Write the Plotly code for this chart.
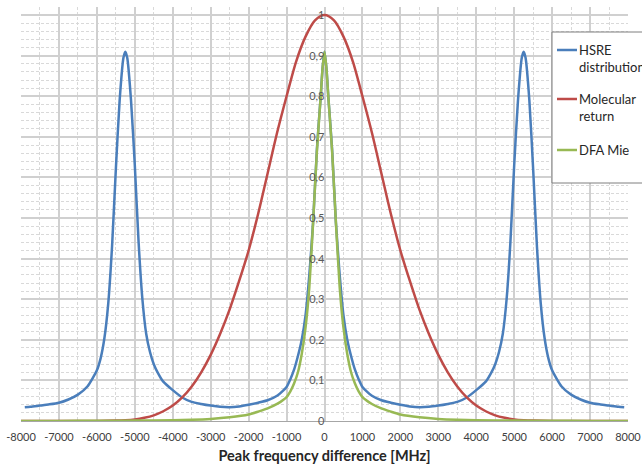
import plotly.graph_objects as go

# ---- data ----
hsre_x = [-7900, -7750, -7500, -7250, -7000, -6750, -6500, -6250, -6000, -5900, -5800, -5700,
          -5600, -5500, -5400, -5300, -5250, -5200, -5100, -5000, -4900, -4800, -4700, -4600,
          -4500, -4400, -4250, -4000, -3750, -3500, -3250, -3000, -2750, -2500, -2250, -2000,
          -1750, -1500, -1250, -1000, -900, -800, -700, -600, -500, -400, -300, -200, -100, -50,
          0, 50, 100, 200, 300, 400, 500, 600, 700, 800, 900, 1000, 1250, 1500, 1750, 2000,
          2250, 2500, 2750, 3000, 3250, 3500, 3750, 4000, 4250, 4400, 4500, 4600, 4700, 4800,
          4900, 5000, 5100, 5200, 5250, 5300, 5400, 5500, 5600, 5700, 5800, 5900, 6000, 6250,
          6500, 6750, 7000, 7250, 7500, 7750, 7900]
hsre_y = [0.034, 0.035, 0.038, 0.041, 0.045, 0.053, 0.065, 0.085, 0.125, 0.155, 0.205, 0.29,
          0.43, 0.62, 0.79, 0.895, 0.91, 0.895, 0.79, 0.63, 0.44, 0.30, 0.215, 0.17,
          0.14, 0.12, 0.097, 0.076, 0.058, 0.047, 0.042, 0.038, 0.035, 0.034, 0.036, 0.040,
          0.045, 0.051, 0.062, 0.084, 0.103, 0.127, 0.16, 0.20, 0.26, 0.36, 0.49, 0.67, 0.80, 0.87,
          0.91, 0.87, 0.80, 0.67, 0.49, 0.36, 0.26, 0.20, 0.16, 0.127, 0.103, 0.084, 0.062, 0.051,
          0.045, 0.040, 0.036, 0.034, 0.035, 0.038, 0.042, 0.047, 0.058, 0.076, 0.097, 0.12,
          0.14, 0.17, 0.215, 0.30, 0.44, 0.63, 0.79, 0.895, 0.91, 0.895, 0.79, 0.62, 0.43,
          0.29, 0.205, 0.155, 0.125, 0.085, 0.065, 0.053, 0.045, 0.041, 0.038, 0.035, 0.034]

mol_x = [-8000, -7000, -6000, -5500, -5250, -5000, -4750, -4500, -4250, -4000, -3750, -3500,
         -3250, -3000, -2750, -2500, -2250, -2000, -1750, -1500, -1250, -1000, -750, -500,
         -250, 0, 250, 500, 750, 1000, 1250, 1500, 1750, 2000, 2250, 2500, 2750, 3000, 3250,
         3500, 3750, 4000, 4250, 4500, 4750, 5000, 5250, 5500, 6000, 7000, 8000]
mol_y = [0.0, 0.0, 0.0, 0.001, 0.002, 0.004, 0.008, 0.014, 0.024, 0.038, 0.058, 0.085,
         0.12, 0.163, 0.215, 0.275, 0.345, 0.42, 0.51, 0.61, 0.71, 0.80, 0.885, 0.947,
         0.987, 1.0, 0.987, 0.947, 0.885, 0.80, 0.71, 0.61, 0.51, 0.42, 0.345, 0.275, 0.215,
         0.163, 0.12, 0.085, 0.058, 0.038, 0.024, 0.014, 0.008, 0.004, 0.002, 0.001, 0.0,
         0.0, 0.0]

dfa_x = [-8000, -7000, -6000, -5000, -4000, -3500, -3000, -2500, -2000, -1750, -1500, -1250,
         -1000, -900, -800, -700, -600, -500, -400, -300, -200, -100, -50, 0, 50, 100, 200,
         300, 400, 500, 600, 700, 800, 900, 1000, 1250, 1500, 1750, 2000, 2500, 3000, 3500,
         4000, 5000, 6000, 7000, 8000]
dfa_y = [0.0002, 0.0003, 0.0005, 0.001, 0.002, 0.003, 0.005, 0.009, 0.016, 0.023, 0.031, 0.042,
         0.059, 0.073, 0.093, 0.12, 0.165, 0.23, 0.33, 0.49, 0.665, 0.80, 0.87, 0.91, 0.87,
         0.80, 0.665, 0.49, 0.33, 0.23, 0.165, 0.12, 0.093, 0.073, 0.059, 0.042, 0.031, 0.023,
         0.016, 0.009, 0.005, 0.003, 0.002, 0.001, 0.0005, 0.0003, 0.0002]

series_names = ["HSRE<br>distribution", "Molecular<br>return", "DFA Mie"]
series_colors = ["#4A7EBB", "#BE4B48", "#98B954"]

x_ticks = list(range(-8000, 8001, 1000))
x_ticktext = [str(v) for v in x_ticks]
y_ticks = [0, 0.1, 0.2, 0.3, 0.4, 0.5, 0.6, 0.7, 0.8, 0.9, 1.0]
y_ticktext = ["0", "0,1", "0,2", "0,3", "0,4", "0,5", "0,6", "0,7", "0,8", "0,9", "1"]

ref_level = 0.9
ref_freq = 3000

FONT = "Lato"
W, H = 642, 466
ML, MR, MT, MB = 21, 14, 7, 45
PW, PH = W - ML - MR, H - MT - MB


def px_to_paper_x(px):
    return (px - ML) / PW


def px_to_paper_y(py):
    return (H - MB - py) / PH


fig = go.Figure()
series = [(hsre_x, hsre_y, 0.6), (mol_x, mol_y, 0.8), (dfa_x, dfa_y, 0.6)]
for (xs, ys, sm), name, col in zip(series, series_names, series_colors):
    fig.add_trace(go.Scatter(x=xs, y=ys, mode="lines", name=name, showlegend=False,
                             line=dict(color=col, width=2.5, shape="spline", smoothing=sm)))

fig.add_shape(type="line", xref="x", yref="y", x0=x_ticks[0], x1=x_ticks[-1],
              y0=ref_level, y1=ref_level, line=dict(color="#8C8C8C", width=1), layer="below")
fig.add_shape(type="line", xref="x", yref="y", x0=ref_freq, x1=ref_freq,
              y0=0, y1=1.02, line=dict(color="#8C8C8C", width=1), layer="below")

# legend box (Excel-style, running off the right edge)
fig.add_shape(type="rect", xref="paper", yref="paper",
              x0=px_to_paper_x(552), x1=px_to_paper_x(700),
              y0=px_to_paper_y(183), y1=px_to_paper_y(32),
              line=dict(color="#7F7F7F", width=1), fillcolor="white", layer="above")
legend_rows_px = [50, 99, 150]
for name, col, py in zip(series_names, series_colors, legend_rows_px):
    fig.add_shape(type="line", xref="paper", yref="paper",
                  x0=px_to_paper_x(557), x1=px_to_paper_x(577),
                  y0=px_to_paper_y(py), y1=px_to_paper_y(py),
                  line=dict(color=col, width=2.5), layer="above")
    fig.add_annotation(xref="paper", yref="paper", x=px_to_paper_x(578),
                       y=px_to_paper_y(py - 9.5), xanchor="left", yanchor="top",
                       text=name, showarrow=False, align="left", borderpad=0,
                       font=dict(family=FONT, size=13, color="#262626"))

fig.update_layout(
    width=W, height=H, autosize=False,
    margin=dict(l=ML, r=MR, t=MT, b=MB, autoexpand=False),
    paper_bgcolor="white", plot_bgcolor="white",
    font=dict(family=FONT, size=11, color="#404040"),
    showlegend=False,
    xaxis=dict(range=[-8000, 8000], tickvals=x_ticks, ticktext=x_ticktext,
               showgrid=True, gridcolor="#D0D0D0", gridwidth=1.5,
               minor=dict(dtick=500, showgrid=True, gridcolor="#D9D9D9",
                          griddash="3px,2px", gridwidth=1),
               zeroline=False, showline=True, linecolor="#A6A6A6", linewidth=1,
               ticks="", ticklabelstandoff=6,
               tickfont=dict(family=FONT, size=11, color="#404040"),
               title=dict(text="<b>Peak frequency difference [MHz]</b>",
                          font=dict(family=FONT, size=14.5, color="#262626"), standoff=8)),
    yaxis=dict(range=[0, 1.02], tickvals=y_ticks, ticktext=y_ticktext,
               anchor="free", position=0.5,
               showgrid=True, gridcolor="#D0D0D0", gridwidth=1.5,
               minor=dict(dtick=0.02, showgrid=True, gridcolor="#D9D9D9",
                          griddash="3px,2px", gridwidth=1),
               zeroline=False, showline=False, ticks="",
               tickfont=dict(family=FONT, size=11, color="#595959")),
)

fig.write_html("out.html", config={"displayModeBar": False},
               post_script="document.body.style.margin='0';")
